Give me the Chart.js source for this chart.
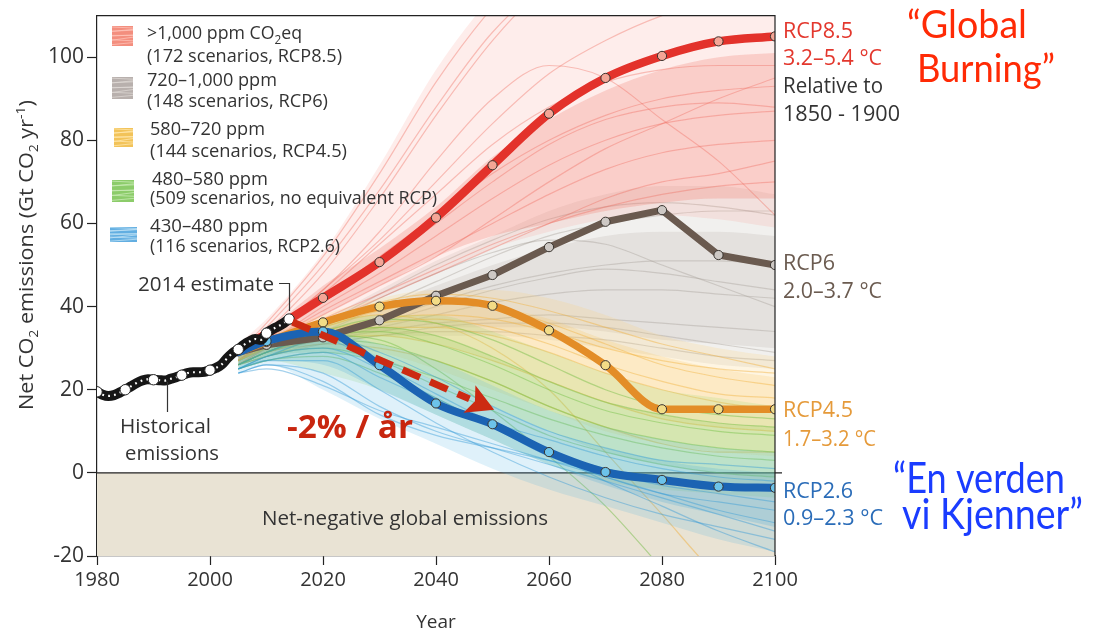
<!DOCTYPE html>
<html>
<head>
<meta charset="utf-8">
<script src="https://cdn.jsdelivr.net/npm/chart.js@4.4.1/dist/chart.umd.min.js"></script>
<style>
  html, body { margin: 0; padding: 0; background: #ffffff; }
  #wrap { width: 1094px; height: 634px; position: relative; }
</style>
</head>
<body>
<div id="wrap"><canvas id="chart" width="1094" height="634"></canvas></div>
<script>
// ---- Historical emissions (Gt CO2 / yr) ----
const histYears = [1980,1981,1982,1983,1984,1985,1986,1987,1988,1989,1990,1991,1992,1993,1994,1995,1996,1997,1998,1999,2000,2001,2002,2003,2004,2005,2006,2007,2008,2009,2010,2011,2012,2013,2014];
const histValues = [19.5,18.8,18.5,18.7,19.3,20.0,20.8,21.6,22.2,22.5,22.4,22.3,22.2,22.6,23.0,23.5,24.0,24.2,24.2,24.3,24.7,25.2,26.0,27.5,28.8,29.7,30.8,31.6,32.2,32.0,33.6,34.5,35.2,36.0,37.0];
const histMarkers = [1980,1985,1990,1995,2000,2005,2010,2014];

// ---- Representative pathways ----
const rcpYears = [2005,2010,2020,2030,2040,2050,2060,2070,2080,2090,2100];
const rcp85 = [29.5,33.5,42.1,50.7,61.4,74.0,86.4,95.0,100.3,103.8,105.0];
const rcp6  = [29.0,30.8,32.6,36.7,42.6,47.6,54.3,60.4,63.2,52.4,50.0];
const rcp45 = [29.0,31.5,36.2,40.0,41.4,40.2,34.3,25.9,15.3,15.3,15.3];
const rcp26 = [29.0,31.7,34.0,25.9,16.7,11.7,5.0,0.2,-1.7,-3.3,-3.6];

// ---- Scenario ranges per concentration category: full spread and dense core ----
const redLow   = [26,30,36,42,48,54,58,61,62,61,59];
const redHigh  = [31,37,53,74,97,115,130,140,145,148,150];
const redCoreLow  = [27,31,38,45,52,57,60,63,65,66,66];
const redCoreHigh = [29,34,45,54,64,76,85,92,97,100,101];
const grayLow  = [26,29,31,33,33,33,32,30,28,26,25];
const grayHigh = [30,33,37,44,51,57,63,67,69,69,67];
const grayCoreLow  = [27,30,32,34,35,35,35,34,32,31,30];
const grayCoreHigh = [29,32,35,40,45,50,54,57,58,58,57];
const orangeLow  = [26,28,30,29,25,20,15,10,7,5,4];
const orangeHigh = [30,33,38,42,44,44,42,38,33,30,28];
const orangeCoreLow  = [27,29,32,33,31,27,22,17,13,11,10];
const orangeCoreHigh = [29,32,36,40,41,40,37,32,28,25,23];
const greenLow  = [25,27,24,20,14,8,2,-2,-4,-5,-6];
const greenHigh = [29,32,36,38,38,34,29,24,20,18,16];
const greenCoreLow  = [26,28,29,27,22,16,10,5,2,0,-1];
const greenCoreHigh = [28,31,34,35,33,28,22,17,14,12,11];
const blueLow  = [24,26,20,13,7,1,-4,-8,-12,-16,-19];
const blueHigh = [28,31,34,31,27,21,15,11,8,6,5];
const blueCoreLow  = [25,27,26,20,14,8,2,-3,-7,-10,-13];
const blueCoreHigh = [27,30,32,28,22,16,10,6,3,1,0];

// ---- Individual scenario traces per category ----
const redRuns = [
  [28,34,48,66,86,104,118,128,135,140,145],
  [29,36,52,72,94,112,126,136,142,146,148],
  [28,35,50,68,88,106,118,124,126,126,125],
  [28,33,44,56,70,84,96,104,110,114,116],
  [27,32,42,52,62,72,80,86,90,92,93],
  [27,31,40,48,57,66,74,80,84,86,87],
  [27,31,39,46,53,60,67,73,77,79,80],
  [26,30,37,43,49,55,60,64,67,69,70],
  [26,30,36,42,48,54,60,66,70,72,75],
  [27,31,38,45,52,61,70,78,84,90,95],
  [28,33,44,58,75,90,98,95,85,75,62],
  [27,32,41,50,60,70,79,85,88,89,88],
  [27,32,43,55,67,79,88,94,97,98,98]
];
const grayRuns = [
  [27,30,34,40,46,52,57,60,62,63,63],
  [27,30,33,37,41,45,48,50,51,51,50],
  [26,29,32,35,38,41,43,44,44,43,42],
  [26,29,32,34,36,37,38,37,36,35,34],
  [27,30,35,42,48,53,56,55,50,45,40],
  [26,29,31,33,34,34,33,32,30,28,27],
  [27,31,36,43,50,56,61,64,65,64,62],
  [26,29,32,36,40,44,47,49,48,46,44],
  [26,28,31,33,35,36,36,35,33,31,29]
];
const orangeRuns = [
  [27,30,35,39,41,40,36,31,26,23,21],
  [26,29,33,35,35,33,29,24,20,17,15],
  [26,29,32,33,31,27,22,17,13,11,10],
  [27,30,36,41,43,42,39,35,31,28,25],
  [26,28,31,30,27,22,16,11,7,5,5],
  [27,30,35,38,36,30,20,5,-10,-25,-35],
  [27,30,34,37,38,37,34,30,27,25,24],
  [26,29,33,36,37,35,31,26,22,19,18]
];
const greenRuns = [
  [26,29,34,37,36,32,26,20,16,14,13],
  [26,28,32,31,27,22,16,11,8,6,5],
  [25,28,30,27,21,15,9,5,2,0,-1],
  [26,29,33,34,31,26,20,15,12,10,9],
  [26,29,33,32,25,15,4,-8,-23,-38,-50],
  [25,27,28,24,18,11,5,1,-2,-3,-4],
  [26,29,33,35,33,28,22,17,14,12,11],
  [25,27,29,27,23,18,13,9,6,4,3]
];
const blueRuns = [
  [26,29,33,29,23,16,10,6,3,2,1],
  [25,28,30,25,18,11,4,-1,-5,-7,-9],
  [25,27,27,20,12,5,-1,-6,-10,-13,-16],
  [24,26,24,16,10,6,2,-2,-6,-10,-14],
  [25,28,32,26,19,12,5,-2,-8,-14,-19],
  [24,26,22,14,9,6,3,0,-3,-5,-7],
  [25,27,29,23,17,12,8,4,1,-1,-2],
  [24,25,21,15,11,7,3,-1,-5,-9,-12]
];

const yTicks = [-20, 0, 20, 40, 60, 80, 100];
const xTicks = [1980, 2000, 2020, 2040, 2060, 2080, 2100];

// ---------------------------------------------------------------
const pts = (xs, ys) => ys.map((v, i) => ({ x: xs[i], y: v }));
const FONT = '"Open Sans", "Noto Sans", sans-serif';
const datasets = [];

// historical: white dotted core with markers, over a thick black stroke
datasets.push({
  data: pts(histYears, histValues), order: 0,
  borderColor: '#ffffff', borderWidth: 2.2, borderDash: [1.8, 4.2], cubicInterpolationMode: 'monotone',
  pointRadius: c => histMarkers.includes(c.raw.x) ? 5.2 : 0,
  pointBackgroundColor: '#ffffff', pointBorderColor: '#2a2a2a', pointBorderWidth: 1
});
datasets.push({
  data: pts(histYears, histValues), order: 1,
  borderColor: '#161616', borderWidth: 10, cubicInterpolationMode: 'monotone',
  borderCapStyle: 'round', pointRadius: 0
});

function rcp(vals, line, dot, order, width, smooth) {
  datasets.push({
    data: pts(rcpYears, vals), order,
    borderColor: line, borderWidth: width, borderJoinStyle: 'round', borderCapStyle: 'round',
    cubicInterpolationMode: smooth ? 'monotone' : 'default', tension: 0,
    pointRadius: rcpYears.map(y => y === 2005 ? 0 : 4.6),
    pointBackgroundColor: dot, pointBorderColor: '#3a3530', pointBorderWidth: 1
  });
}
rcp(rcp26, '#1b63b3', '#6cc3ea', 2, 8, true);
rcp(rcp85, '#e3322b', '#f4a596', 3, 8.5, true);
rcp(rcp45, '#e38d27', '#f3dc86', 4, 7.5, true);
rcp(rcp6,  '#6a5a4f', '#cdc8c4', 5, 7, false);

function band(low, high, col, order) {
  const lowIdx = datasets.length;
  datasets.push({ data: pts(rcpYears, low), order, borderWidth: 0, borderColor: 'rgba(0,0,0,0)',
    pointRadius: 0, cubicInterpolationMode: 'monotone', fill: false });
  datasets.push({ data: pts(rcpYears, high), order, borderWidth: 0, borderColor: 'rgba(0,0,0,0)',
    pointRadius: 0, cubicInterpolationMode: 'monotone', fill: lowIdx, backgroundColor: col });
}
function family(g, order) {
  band(g.low, g.high, g.outer, order);
  band(g.coreLow, g.coreHigh, g.core, order);
  g.runs.forEach(r => datasets.push({ data: pts(rcpYears, r), order, borderWidth: 1.2,
    borderColor: g.line, pointRadius: 0, cubicInterpolationMode: 'monotone', fill: false }));
}
family({ low: blueLow, high: blueHigh, coreLow: blueCoreLow, coreHigh: blueCoreHigh, runs: blueRuns,
  outer: 'rgba(80,175,225,0.18)', core: 'rgba(50,160,215,0.20)', line: 'rgba(40,145,210,0.42)' }, 10);
family({ low: greenLow, high: greenHigh, coreLow: greenCoreLow, coreHigh: greenCoreHigh, runs: greenRuns,
  outer: 'rgba(150,210,100,0.20)', core: 'rgba(120,195,70,0.20)', line: 'rgba(105,185,55,0.45)' }, 11);
family({ low: orangeLow, high: orangeHigh, coreLow: orangeCoreLow, coreHigh: orangeCoreHigh, runs: orangeRuns,
  outer: 'rgba(250,205,110,0.20)', core: 'rgba(245,185,70,0.20)', line: 'rgba(240,170,50,0.45)' }, 12);
family({ low: redLow, high: redHigh, coreLow: redCoreLow, coreHigh: redCoreHigh, runs: redRuns,
  outer: 'rgba(245,130,115,0.14)', core: 'rgba(240,105,90,0.24)', line: 'rgba(235,95,80,0.36)' }, 13);
family({ low: grayLow, high: grayHigh, coreLow: grayCoreLow, coreHigh: grayCoreHigh, runs: grayRuns,
  outer: 'rgba(185,178,172,0.20)', core: 'rgba(170,162,156,0.20)', line: 'rgba(150,140,134,0.36)' }, 14);

// ---------------------------------------------------------------
function txt(ctx, s, x, base, size, color, width, weight, fam) {
  ctx.save();
  ctx.font = (weight || 'normal') + ' ' + size + 'px ' + (fam || FONT);
  ctx.fillStyle = color; ctx.textAlign = 'left'; ctx.textBaseline = 'alphabetic';
  const w = ctx.measureText(s).width;
  ctx.translate(x, base);
  if (width) ctx.scale(width / w, 1);
  ctx.fillText(s, 0, 0);
  ctx.restore();
}
function rich(ctx, parts, x, base, size, color, width) {
  const f = m => (m === 'n' ? size : Math.round(size * 0.64)) + 'px ' + FONT;
  let total = 0; const ws = [];
  parts.forEach(([s, m]) => { ctx.font = f(m); const w = ctx.measureText(s).width; ws.push(w); total += w; });
  ctx.save();
  ctx.translate(x, base);
  if (width) ctx.scale(width / total, 1);
  ctx.fillStyle = color; ctx.textBaseline = 'alphabetic';
  let cx = 0;
  parts.forEach(([s, m], i) => {
    ctx.font = f(m);
    const dy = m === 'sub' ? size * 0.26 : (m === 'sup' ? -size * 0.42 : 0);
    ctx.fillText(s, cx, dy); cx += ws[i];
  });
  ctx.restore();
}
function swatch(ctx, x, y, w, h, col, streak) {
  ctx.save();
  ctx.fillStyle = col; ctx.fillRect(x, y, w, h);
  ctx.strokeStyle = streak; ctx.lineWidth = 1;
  const offs = [0.1, 0.22, 0.31, 0.45, 0.52, 0.66, 0.74, 0.88];
  offs.forEach((o, i) => {
    ctx.beginPath();
    ctx.moveTo(x, y + o * h + (i % 2 ? 1 : -1));
    ctx.lineTo(x + w, y + o * h - (i % 3));
    ctx.stroke();
  });
  ctx.restore();
}

const decor = {
  id: 'decor',
  beforeDatasetsDraw(chart) {
    const { ctx, chartArea: a, scales: { x, y } } = chart;
    const y0 = y.getPixelForValue(0), yb = y.getPixelForValue(-20);
    ctx.save();
    ctx.fillStyle = '#e9e3d4';
    ctx.fillRect(a.left, y0, a.right - a.left, yb - y0);
    txt(ctx, 'Net-negative global emissions', 262, 525, 19.5, '#333333', 286);
    ctx.strokeStyle = '#222'; ctx.lineWidth = 1.2;
    ctx.beginPath(); ctx.moveTo(a.left, y0); ctx.lineTo(a.right + 7, y0); ctx.stroke();
    ctx.restore();
  },
  afterDatasetsDraw(chart) {
    const { ctx, chartArea: a, scales: { x, y } } = chart;
    ctx.save();
    // frame (top / right)
    ctx.strokeStyle = '#222'; ctx.lineWidth = 1.2;
    ctx.beginPath(); ctx.moveTo(a.left, a.top); ctx.lineTo(a.right, a.top); ctx.lineTo(a.right, a.bottom); ctx.stroke();

    // dashed decline arrow
    const sx = x.getPixelForValue(2014.6), sy = y.getPixelForValue(36.3);
    const ex = x.getPixelForValue(2050.3), ey = y.getPixelForValue(15.2);
    const ang = Math.atan2(ey - sy, ex - sx);
    const headL = 27, headW = 15;
    const bx = ex - headL * Math.cos(ang), by = ey - headL * Math.sin(ang);
    ctx.strokeStyle = '#cc2a12'; ctx.lineWidth = 7; ctx.setLineDash([19, 11]);
    ctx.beginPath(); ctx.moveTo(sx, sy); ctx.lineTo(bx, by); ctx.stroke();
    ctx.setLineDash([]);
    ctx.fillStyle = '#cc2a12';
    ctx.beginPath();
    ctx.moveTo(ex, ey);
    ctx.lineTo(bx + headW * Math.sin(ang), by - headW * Math.cos(ang));
    ctx.lineTo(bx + 6 * Math.cos(ang), by + 6 * Math.sin(ang));
    ctx.lineTo(bx - headW * Math.sin(ang), by + headW * Math.cos(ang));
    ctx.closePath(); ctx.fill();
    ctx.restore();
  },
  afterDraw(chart) {
    const { ctx } = chart;
    ctx.save();
    // y-axis title
    ctx.save();
    ctx.translate(33, 410); ctx.rotate(-Math.PI / 2);
    rich(ctx, [['Net CO', 'n'], ['2', 'sub'], [' emissions (Gt CO', 'n'], ['2', 'sub'], [' yr', 'n'], ['-1', 'sup'], [')', 'n']], 0, 0, 20, '#333333', 310);
    ctx.restore();

    // legend
    swatch(ctx, 112, 26, 21, 20, 'rgba(240,110,90,0.78)', 'rgba(255,200,190,0.7)');
    swatch(ctx, 112, 77, 21, 22, 'rgba(160,150,145,0.75)', 'rgba(225,220,215,0.7)');
    swatch(ctx, 114, 128, 19, 19, 'rgba(240,185,60,0.85)', 'rgba(255,230,170,0.8)');
    swatch(ctx, 112, 180, 22, 22, 'rgba(120,195,80,0.85)', 'rgba(200,235,180,0.8)');
    swatch(ctx, 110, 227, 27, 15, 'rgba(70,160,220,0.85)', 'rgba(190,225,245,0.8)');
    const lc = '#333333';
    rich(ctx, [['>1,000 ppm CO', 'n'], ['2', 'sub'], ['eq', 'n']], 147, 39, 18, lc, 155);
    txt(ctx, '(172 scenarios, RCP8.5)', 147, 62, 18, lc, 195);
    txt(ctx, '720\u20131,000 ppm', 147, 86, 18, lc, 130);
    txt(ctx, '(148 scenarios, RCP6)', 147, 107, 18, lc, 181);
    txt(ctx, '580\u2013720 ppm', 150, 135, 18, lc, 115);
    txt(ctx, '(144 scenarios, RCP4.5)', 150, 157, 18, lc, 197);
    txt(ctx, '480\u2013580 ppm', 152, 185, 18, lc, 116);
    txt(ctx, '(509 scenarios, no equivalent RCP)', 150, 204, 18, lc, 287);
    txt(ctx, '430\u2013480 ppm', 150, 232, 18, lc, 118);
    txt(ctx, '(116 scenarios, RCP2.6)', 150, 252, 18, lc, 190);

    // annotations on the historical curve
    txt(ctx, '2014 estimate', 138, 291, 19.5, lc, 136);
    txt(ctx, 'Historical', 120, 433, 19.5, lc, 91);
    txt(ctx, 'emissions', 125, 460, 19.5, lc, 94);
    ctx.strokeStyle = '#333'; ctx.lineWidth = 1.2;
    ctx.beginPath(); ctx.moveTo(279, 283.5); ctx.lineTo(289.5, 283.5); ctx.lineTo(289.5, 311); ctx.stroke();
    ctx.beginPath(); ctx.moveTo(167.5, 382); ctx.lineTo(167.5, 412); ctx.stroke();

    // decline rate
    txt(ctx, '-2% / \u00e5r', 287, 438, 33, '#c8260f', 126, 'bold');

    // pathway labels
    const red = '#e3372d', brown = '#6b5b50', orange = '#e59a3a', blue = '#2a6cb8', dark = '#333333';
    txt(ctx, 'RCP8.5', 783, 38, 21, red, 70);
    txt(ctx, '3.2\u20135.4 \u00b0C', 783, 65, 21, red, 99);
    txt(ctx, 'Relative to', 783, 93, 21, dark, 100);
    txt(ctx, '1850 - 1900', 783, 121, 21, dark, 117);
    txt(ctx, 'RCP6', 783, 270, 21, brown, 52);
    txt(ctx, '2.0\u20133.7 \u00b0C', 783, 298, 21, brown, 99);
    txt(ctx, 'RCP4.5', 783, 417, 21, orange, 70);
    txt(ctx, '1.7\u20133.2 \u00b0C', 783, 446, 21, orange, 93);
    txt(ctx, 'RCP2.6', 783, 498, 21, blue, 70);
    txt(ctx, '0.9\u20132.3 \u00b0C', 783, 525, 21, blue, 100);

    // quotes
    const q = 'Lato, "Open Sans", sans-serif';
    txt(ctx, '\u201cGlobal', 907, 38, 39, '#ff2a05', 120, 'normal', q);
    txt(ctx, 'Burning\u201d', 917, 82, 39, '#ff2a05', 138, 'normal', q);
    txt(ctx, '\u201cEn verden', 893, 493, 42, '#1a3cff', 172, 'normal', q);
    txt(ctx, 'vi Kjenner\u201d', 902, 529, 42, '#1a3cff', 181, 'normal', q);
    ctx.restore();
  }
};

new Chart(document.getElementById('chart'), {
  type: 'line',
  data: { datasets },
  options: {
    responsive: false,
    animation: false,
    events: [],
    layout: { padding: { left: 0, right: 319, top: 10, bottom: 0 } },
    plugins: { legend: { display: false }, tooltip: { enabled: false }, filler: { propagate: false } },
    scales: {
      x: {
        type: 'linear', min: 1980, max: 2100,
        afterBuildTicks: s => { s.ticks = xTicks.map(v => ({ value: v })); },
        ticks: { callback: v => String(v), color: '#333333', font: { family: FONT, size: 20 }, padding: 3, maxRotation: 0 },
        grid: { drawOnChartArea: false, drawTicks: true, tickLength: 9, tickColor: '#222', tickWidth: 1.2 },
        border: { display: true, color: '#222', width: 1.2 },
        title: { display: true, text: 'Year', color: '#333333', font: { family: FONT, size: 19 }, padding: { top: 0, bottom: 0 } },
        afterFit: s => { s.height = 78; }
      },
      y: {
        type: 'linear', min: -20, max: 110,
        afterBuildTicks: s => { s.ticks = yTicks.map(v => ({ value: v })); },
        ticks: { color: '#333333', font: { family: FONT, size: 21 }, padding: 3 },
        grid: { drawOnChartArea: false, drawTicks: true, tickLength: 10, tickColor: '#222', tickWidth: 1.2 },
        border: { display: true, color: '#222', width: 1.2 },
        afterFit: s => { s.width = 97; }
      }
    }
  },
  plugins: [decor]
});
</script>
</body>
</html>
